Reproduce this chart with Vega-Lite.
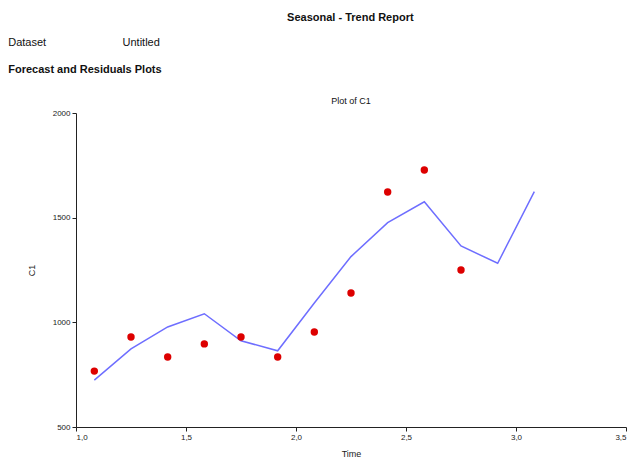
{
  "$schema": "https://vega.github.io/schema/vega-lite/v6.json",
  "background": "white",
  "padding": {"left": 8, "top": 12, "right": 5, "bottom": 0},
  "config": {
    "font": "Liberation Sans",
    "view": {"stroke": null},
    "axis": {
      "grid": false,
      "domainColor": "#222222",
      "tickColor": "#222222",
      "tickSize": 4,
      "labelFontSize": 8,
      "labelColor": "#222222",
      "titleFontSize": 9,
      "titleFontWeight": "normal",
      "titleColor": "#222222"
    },
    "title": {"color": "#111111"}
  },
  "title": {
    "text": "Seasonal - Trend Report",
    "anchor": "middle",
    "fontSize": 11,
    "fontWeight": "bold",
    "offset": 14,
    "dx": 33
  },
  "datasets": {
    "series": [
      {"time": 1.0833, "fitted": 724, "observed": 767},
      {"time": 1.25, "fitted": 873, "observed": 930},
      {"time": 1.4167, "fitted": 978, "observed": 834},
      {"time": 1.5833, "fitted": 1041, "observed": 897},
      {"time": 1.75, "fitted": 912, "observed": 930},
      {"time": 1.9167, "fitted": 864, "observed": 834},
      {"time": 2.0833, "fitted": 1092, "observed": 954},
      {"time": 2.25, "fitted": 1314, "observed": 1140},
      {"time": 2.4167, "fitted": 1476, "observed": 1623},
      {"time": 2.5833, "fitted": 1576, "observed": 1728},
      {"time": 2.75, "fitted": 1365, "observed": 1250},
      {"time": 2.9167, "fitted": 1282, "observed": null},
      {"time": 3.0833, "fitted": 1624, "observed": null}
    ]
  },
  "vconcat": [
    {
      "title": {
        "text": "Dataset\u00a0\u00a0\u00a0\u00a0\u00a0\u00a0\u00a0\u00a0\u00a0\u00a0\u00a0\u00a0\u00a0\u00a0\u00a0\u00a0\u00a0\u00a0\u00a0\u00a0\u00a0\u00a0\u00a0\u00a0\u00a0Untitled",
        "subtitle": "Forecast and Residuals Plots",
        "anchor": "start",
        "fontSize": 11,
        "fontWeight": "normal",
        "subtitleFontSize": 11,
        "subtitleFontWeight": "bold",
        "subtitleColor": "#111111",
        "subtitlePadding": 16,
        "offset": 22,
        "dx": -19
      },
      "vconcat": [
        {
          "title": {"text": "Plot of C1", "fontSize": 9, "fontWeight": "normal", "anchor": "middle", "offset": 3},
          "width": 550,
          "height": 314,
          "data": {"name": "series"},
          "layer": [
            {
              "mark": {"type": "line", "color": "#6e6eff", "strokeWidth": 1.5},
              "encoding": {
                "x": {"field": "time", "type": "quantitative", "scale": {"domain": [1, 3.5], "nice": false},
                      "axis": {"values": [1, 1.5, 2, 2.5, 3, 3.5], "labelExpr": "replace(format(datum.value, '.1f'), '.', ',')", "title": "Time", "titleY": 22}},
                "y": {"field": "fitted", "type": "quantitative", "scale": {"domain": [500, 2000], "nice": false, "zero": false},
                      "axis": {"values": [500, 1000, 1500, 2000], "format": "d", "title": "C1", "titlePadding": 16}}
              }
            },
            {
              "mark": {"type": "point", "filled": true, "color": "#dd0000", "opacity": 1, "size": 55},
              "encoding": {
                "x": {"field": "time", "type": "quantitative"},
                "y": {"field": "observed", "type": "quantitative"}
              }
            }
          ]
        }
      ]
    }
  ]
}
